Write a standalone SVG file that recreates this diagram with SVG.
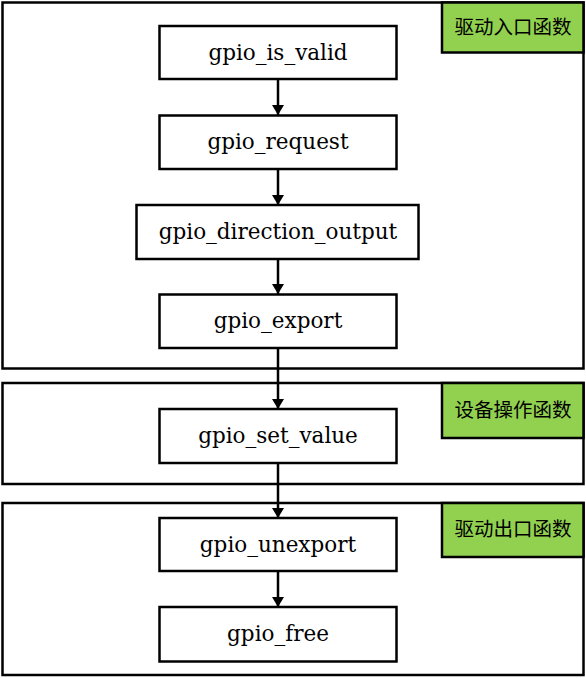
<svg xmlns="http://www.w3.org/2000/svg" width="586" height="678" viewBox="0 0 586 678">
<style>
.panel{fill:#fff;stroke:#000;stroke-width:2.5}
.tag{fill:#92D050;stroke:#000;stroke-width:2.5}
.box{fill:#fff;stroke:#000;stroke-width:2.5}
.t{font-family:'DejaVu Serif',serif;font-size:21.5px;fill:#000;text-anchor:middle}
.c{font-family:'Noto Sans CJK SC',sans-serif;font-size:19.5px;fill:#000;text-anchor:middle}
.ln{stroke:#000;stroke-width:2.5;fill:none}
</style>
<defs>
<marker id="ah" markerWidth="10" markerHeight="12" refX="10" refY="6" orient="auto" markerUnits="userSpaceOnUse">
<path d="M0,0 L10,6 L0,12 z" fill="#000"/>
</marker>
</defs>
<g id="panel-entry">
<rect class="panel" x="2.5" y="2.5" width="581" height="366"/>
<rect class="tag" x="442" y="2.5" width="141.5" height="50"/>
<text class="c" x="513" y="34">驱动入口函数</text>
</g>
<g id="panel-ops">
<rect class="panel" x="2.5" y="383" width="581" height="101"/>
<rect class="tag" x="442" y="383" width="141.5" height="55"/>
<text class="c" x="513" y="417">设备操作函数</text>
</g>
<g id="panel-exit">
<rect class="panel" x="2.5" y="503" width="581" height="172"/>
<rect class="tag" x="442" y="503" width="141.5" height="54"/>
<text class="c" x="513" y="536">驱动出口函数</text>
</g>
<g id="connectors">
<line class="ln" x1="278" y1="79" x2="278" y2="115" marker-end="url(#ah)"/>
<line class="ln" x1="278" y1="169" x2="278" y2="205" marker-end="url(#ah)"/>
<line class="ln" x1="278" y1="259" x2="278" y2="294" marker-end="url(#ah)"/>
<line class="ln" x1="278" y1="348" x2="278" y2="409" marker-end="url(#ah)"/>
<line class="ln" x1="278" y1="463" x2="278" y2="518" marker-end="url(#ah)"/>
<line class="ln" x1="278" y1="571" x2="278" y2="607" marker-end="url(#ah)"/>
</g>
<g id="n1"><rect class="box" x="159.5" y="26" width="237" height="53"/><text class="t" x="278" y="60">gpio_is_valid</text></g>
<g id="n2"><rect class="box" x="159.5" y="115.5" width="237" height="53.5"/><text class="t" x="278" y="149">gpio_request</text></g>
<g id="n3"><rect class="box" x="136.5" y="205" width="282" height="54"/><text class="t" x="278" y="239">gpio_direction_output</text></g>
<g id="n4"><rect class="box" x="159.5" y="294.5" width="237" height="53.5"/><text class="t" x="278" y="328">gpio_export</text></g>
<g id="n5"><rect class="box" x="159.5" y="409" width="237" height="54"/><text class="t" x="278" y="443">gpio_set_value</text></g>
<g id="n6"><rect class="box" x="159.5" y="518" width="237" height="53"/><text class="t" x="278" y="552">gpio_unexport</text></g>
<g id="n7"><rect class="box" x="159.5" y="607" width="237" height="54.5"/><text class="t" x="278" y="641">gpio_free</text></g>
</svg>
